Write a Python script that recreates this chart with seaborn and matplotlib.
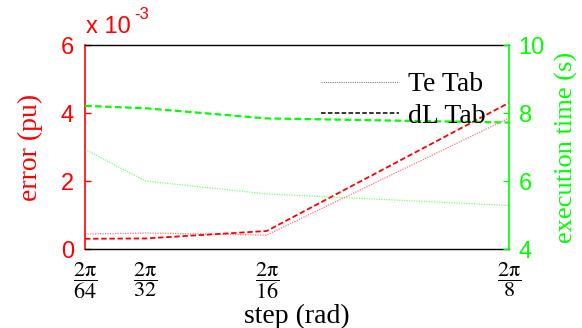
import numpy as np
import pandas as pd
import seaborn as sns
import matplotlib
matplotlib.use("Agg")
import matplotlib.pyplot as plt
from matplotlib.lines import Line2D
from matplotlib.ticker import FuncFormatter

# ---- data ----
step_div = [64, 32, 16, 8]
step_labels = [r"$\dfrac{\mathrm{2\pi}}{\mathrm{64}}$", r"$\dfrac{\mathrm{2\pi}}{\mathrm{32}}$",
               r"$\dfrac{\mathrm{2\pi}}{\mathrm{16}}$", r"$\dfrac{\mathrm{2\pi}}{\mathrm{8}}$"]
err_te = [0.44e-3, 0.47e-3, 0.41e-3, 3.85e-3]
err_dl = [0.30e-3, 0.31e-3, 0.53e-3, 4.30e-3]
time_te = [6.93, 6.00, 5.62, 5.28]
time_dl = [8.21, 8.14, 7.84, 7.72]
series_names = ["Te Tab", "dL Tab"]

steps = [2 * np.pi / d for d in step_div]
df = pd.DataFrame({"step": steps, "err_te": err_te, "err_dl": err_dl,
                   "time_te": time_te, "time_dl": time_dl})

sns.set_style("white")
plt.rcParams["mathtext.fontset"] = "stix"
plt.rcParams["text.color"] = "black"

RED = "#ff0000"
GREEN = "#00ff00"
serif = "Liberation Serif"
sans = "Liberation Sans"

fig, ax = plt.subplots(figsize=(5.82, 3.28), dpi=100)
fig.subplots_adjust(left=85/582, right=509/582, bottom=1-249/328, top=1-45/328)
ax2 = ax.twinx()

sns.lineplot(data=df, x="step", y="err_te", ax=ax, color=RED, lw=0.9, alpha=0.55,
             linestyle=(0, (1, 1)))
sns.lineplot(data=df, x="step", y="err_dl", ax=ax, color=RED, lw=1.3,
             linestyle=(0, (3, 1.5)))
sns.lineplot(data=df, x="step", y="time_te", ax=ax2, color=GREEN, lw=0.9, alpha=0.55,
             linestyle=(0, (1, 1)))
sns.lineplot(data=df, x="step", y="time_dl", ax=ax2, color=GREEN, lw=1.6,
             linestyle=(0, (3, 1.5)))

ax.set_xlim(steps[0], steps[-1])
ax.set_ylim(0, 6e-3)
ax2.set_ylim(4, 10)

ax.set_xticks(steps)
ax.set_xticklabels(step_labels, fontsize=16, color="black")
ax.set_yticks([0, 2e-3, 4e-3, 6e-3])
ax.yaxis.set_major_formatter(FuncFormatter(lambda v, p: f"{v*1e3:g}"))
ax2.set_yticks([4, 6, 8, 10])

for lab in ax.get_yticklabels():
    lab.set_fontfamily(sans); lab.set_fontsize(17); lab.set_color(RED)
for lab in ax2.get_yticklabels():
    lab.set_fontfamily(sans); lab.set_fontsize(17); lab.set_color(GREEN)

ax.tick_params(axis="y", direction="in", length=4, width=1, colors=RED, pad=8)
ax.tick_params(axis="x", direction="in", length=4, width=1, colors="black", pad=8)
ax2.tick_params(axis="y", direction="in", length=4, width=1, colors=GREEN, pad=7)

for s in ["top", "bottom"]:
    ax.spines[s].set_color("black"); ax.spines[s].set_linewidth(1)
ax.spines["left"].set_color(RED); ax.spines["left"].set_linewidth(1.2)
ax.spines["right"].set_visible(False)
ax2.spines["left"].set_visible(False)
ax2.spines["top"].set_visible(False)
ax2.spines["bottom"].set_visible(False)
ax2.spines["right"].set_color(GREEN); ax2.spines["right"].set_linewidth(1.2)

ax.set_xlabel("step (rad)", fontfamily=serif, fontsize=20, color="black", labelpad=2)
ax.set_ylabel("error (pu)", fontfamily=serif, fontsize=20, color=RED, labelpad=13)
ax2.set_ylabel("execution time (s)", fontfamily=serif, fontsize=19, color=GREEN, labelpad=7)

fig.text(86/582, 1-33/328, "x 10", fontfamily=sans, fontsize=17, color=RED, va="baseline")
fig.text(134/582, 1-19/328, "-3", fontfamily=sans, fontsize=12, color=RED, va="baseline")

handles = [Line2D([], [], color="black", lw=0.8, alpha=0.5, linestyle=(0, (1, 1))),
           Line2D([], [], color="black", lw=1.1, linestyle=(0, (3, 1.5)))]
leg = ax2.legend(handles, series_names, loc="upper left",
                 bbox_to_anchor=(307/582, 1-58/328), bbox_transform=fig.transFigure,
                 frameon=False, borderpad=0, handlelength=2.8, handletextpad=0.35,
                 labelspacing=0.22, labelcolor="black", prop={"family": serif, "size": 20})

fig.savefig("out.png", dpi=100)
